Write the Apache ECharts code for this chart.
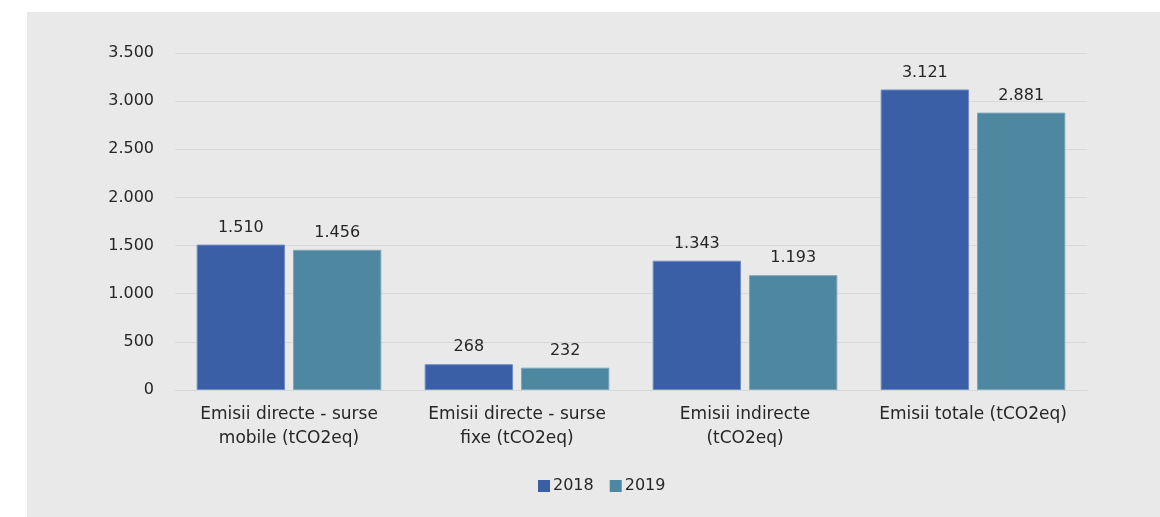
<!DOCTYPE html>
<html>
<head>
<meta charset="utf-8">
<script src="https://cdn.jsdelivr.net/npm/echarts@6/dist/echarts.min.js"></script>
<style>
  html, body { margin: 0; padding: 0; background: #ffffff; }
  #chart { width: 1160px; height: 517px; }
</style>
</head>
<body>
<div id="chart"></div>
<script>
// Emissions by source, 2018 vs 2019 (tCO2eq)
const categories = [
  'Emisii directe - surse\nmobile (tCO2eq)',
  'Emisii directe - surse\nfixe (tCO2eq)',
  'Emisii indirecte\n(tCO2eq)',
  'Emisii totale (tCO2eq)'
];
const values2018 = [1510, 268, 1343, 3121];
const values2019 = [1456, 232, 1193, 2881];
const seriesNames = ['2018', '2019'];

const FONT = '"DejaVu Sans", sans-serif';
const TEXT = '#262626';
const fmt = v => String(v).replace(/\B(?=(\d{3})+(?!\d))/g, '.');

const chart = echarts.init(document.getElementById('chart'));
chart.setOption({
  animation: false,
  backgroundColor: '#ffffff',
  textStyle: { fontFamily: FONT },
  graphic: [{
    type: 'rect',
    z: -10,
    shape: { x: 27, y: 12, width: 1133, height: 505 },
    style: { fill: '#e9e9e9' }
  }],
  grid: { left: 175, right: 73, top: 53, bottom: 127 },
  legend: {
    data: seriesNames,
    top: 473,
    left: 533,
    itemWidth: 12,
    itemHeight: 12,
    itemGap: 16,
    icon: 'rect',
    itemStyle: { borderWidth: 0 },
    textStyle: { fontFamily: FONT, fontSize: 16, color: TEXT, padding: [0, 0, 0, -2] }
  },
  xAxis: {
    type: 'category',
    data: categories,
    axisLine: { lineStyle: { color: '#d6d6d6' } },
    axisTick: { show: false },
    axisLabel: {
      margin: 13,
      fontFamily: FONT,
      fontSize: 17,
      lineHeight: 24,
      color: TEXT,
      interval: 0
    }
  },
  yAxis: {
    type: 'value',
    min: 0,
    max: 3500,
    interval: 500,
    axisLine: { show: false },
    axisTick: { show: false },
    splitLine: { lineStyle: { color: '#d9d9d9', width: 1 } },
    axisLabel: {
      margin: 21,
      fontFamily: FONT,
      fontSize: 16,
      color: TEXT,
      formatter: fmt
    }
  },
  series: [
    {
      name: seriesNames[0],
      type: 'bar',
      data: values2018,
      barGap: '9%',
      barCategoryGap: '19%',
      itemStyle: { color: '#3a5fa7', borderColor: '#6f8cc4', borderWidth: 1 },
      label: {
        show: true, position: 'top', distance: 9,
        fontFamily: FONT, fontSize: 16, color: TEXT,
        formatter: p => fmt(p.value)
      }
    },
    {
      name: seriesNames[1],
      type: 'bar',
      data: values2019,
      itemStyle: { color: '#4d87a0', borderColor: '#7ea7bb', borderWidth: 1 },
      label: {
        show: true, position: 'top', distance: 9,
        fontFamily: FONT, fontSize: 16, color: TEXT,
        formatter: p => fmt(p.value)
      }
    }
  ]
});
</script>
</body>
</html>
